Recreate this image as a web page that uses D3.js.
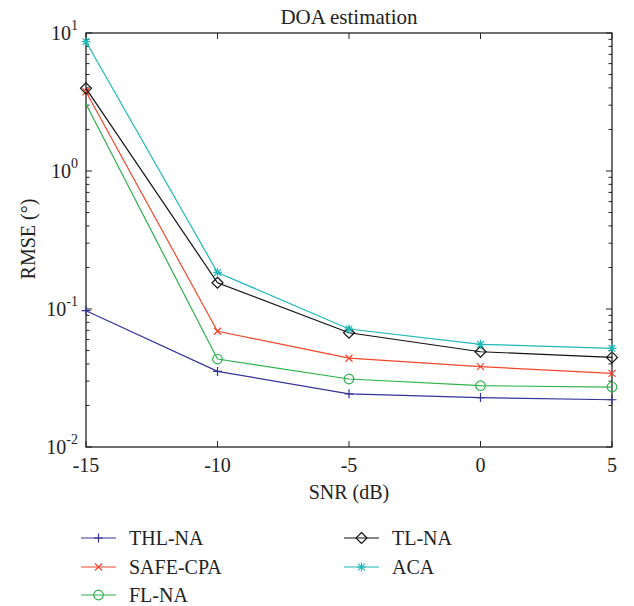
<!DOCTYPE html>
<html>
<head>
<meta charset="utf-8">
<script src="https://cdn.jsdelivr.net/npm/d3@7"></script>
<style>
  body { margin: 0; background: #fff; }
</style>
</head>
<body>
<script>
// data
const snr = [-15, -10, -5, 0, 5];
const thlNa = [0.0972, 0.0353, 0.0243, 0.0228, 0.0220];
const safeCpa = [3.75, 0.069, 0.0440, 0.0382, 0.0342];
const flNa = [3.06, 0.0434, 0.0311, 0.0278, 0.0272];
const tlNa = [3.97, 0.155, 0.0673, 0.0490, 0.0446];
const aca = [8.65, 0.184, 0.0716, 0.0555, 0.0519];
const xTicks = [-15, -10, -5, 0, 5];
const yTicks = [1e-2, 1e-1, 1e0, 1e1];

const series = [
  { name: "THL-NA", values: thlNa, color: "#35349a", marker: "plus" },
  { name: "SAFE-CPA", values: safeCpa, color: "#f2472c", marker: "cross" },
  { name: "FL-NA", values: flNa, color: "#2eb24a", marker: "circle", skipFirst: true },
  { name: "TL-NA", values: tlNa, color: "#111111", marker: "diamond" },
  { name: "ACA", values: aca, color: "#1fb8b8", marker: "star" }
];

const FONT = "'Liberation Serif'";
const W = 634, H = 606;
const margin = { left: 86, top: 33, right: 634 - 612, bottom: 606 - 447 };
const width = W - margin.left - margin.right;
const height = H - margin.top - margin.bottom;

const svg = d3.select("body").append("svg")
  .attr("width", W).attr("height", H);

const g = svg.append("g")
  .attr("transform", `translate(${margin.left},${margin.top})`);

const xScale = d3.scaleLinear([-15, 5], [0, width]);
const yScale = d3.scaleLog([1e-2, 1e1], [height, 0]);

// minor log ticks
const minor = [];
for (let e = -2; e < 1; e++) {
  for (let m = 2; m <= 9; m++) minor.push(m * Math.pow(10, e));
}

// ticks drawn inward on all four sides
function yTickLines(xPos, dir) {
  g.selectAll(null).data(yTicks).enter().append("line")
    .attr("x1", xPos).attr("x2", xPos + dir * 6)
    .attr("y1", d => yScale(d)).attr("y2", d => yScale(d))
    .attr("stroke", "#222").attr("stroke-width", 1);
  g.selectAll(null).data(minor).enter().append("line")
    .attr("x1", xPos).attr("x2", xPos + dir * 3.5)
    .attr("y1", d => yScale(d)).attr("y2", d => yScale(d))
    .attr("stroke", "#222").attr("stroke-width", 1);
}
yTickLines(0, 1);
yTickLines(width, -1);

function xTickLines(yPos, dir) {
  g.selectAll(null).data(xTicks).enter().append("line")
    .attr("x1", d => xScale(d)).attr("x2", d => xScale(d))
    .attr("y1", yPos).attr("y2", yPos + dir * 6)
    .attr("stroke", "#222").attr("stroke-width", 1);
}
xTickLines(height, -1);
xTickLines(0, 1);

// frame
g.append("rect")
  .attr("x", 0).attr("y", 0)
  .attr("width", width).attr("height", height)
  .attr("fill", "none").attr("stroke", "#222").attr("stroke-width", 1.3);

// tick labels
g.selectAll(null).data(xTicks).enter().append("text")
  .attr("x", d => xScale(d)).attr("y", height + 25)
  .attr("text-anchor", "middle")
  .attr("fill", "#222")
  .style("font-family", FONT)
  .style("font-size", "20px")
  .text(d => d);

const yLab = g.selectAll(null).data(yTicks).enter().append("text")
  .attr("x", -8).attr("y", d => yScale(d) + 7)
  .attr("text-anchor", "end")
  .attr("fill", "#222")
  .style("font-family", FONT)
  .style("font-size", "20px");
yLab.append("tspan").text("10");
yLab.append("tspan")
  .attr("dy", -10).style("font-size", "14px")
  .text(d => Math.round(Math.log10(d)));

// axis labels + title
svg.append("text")
  .attr("x", margin.left + width / 2).attr("y", 24)
  .attr("text-anchor", "middle")
  .attr("fill", "#222")
  .style("font-family", FONT)
  .style("font-size", "21px")
  .text("DOA estimation");

svg.append("text")
  .attr("x", margin.left + width / 2).attr("y", margin.top + height + 52)
  .attr("text-anchor", "middle")
  .attr("fill", "#222")
  .style("font-family", FONT)
  .style("font-size", "20px")
  .text("SNR (dB)");

svg.append("text")
  .attr("transform", `translate(35,${margin.top + height / 2 - 1}) rotate(-90)`)
  .attr("text-anchor", "middle")
  .attr("fill", "#222")
  .style("font-family", FONT)
  .style("font-size", "20px")
  .text("RMSE (°)");

// markers
function drawMarker(sel, type, color) {
  const s = 4.5;
  if (type === "plus") {
    sel.append("path").attr("d", `M${-s},0H${s}M0,${-s}V${s}`)
      .attr("stroke", color).attr("fill", "none").attr("stroke-width", 1.2);
  } else if (type === "cross") {
    const c = 3.5;
    sel.append("path").attr("d", `M${-c},${-c}L${c},${c}M${-c},${c}L${c},${-c}`)
      .attr("stroke", color).attr("fill", "none").attr("stroke-width", 1.2);
  } else if (type === "circle") {
    sel.append("circle").attr("r", 4.8)
      .attr("stroke", color).attr("fill", "none").attr("stroke-width", 1.2);
  } else if (type === "diamond") {
    const d = 5.5;
    sel.append("path").attr("d", `M0,${-d}L${d},0L0,${d}L${-d},0Z`)
      .attr("stroke", color).attr("fill", "none").attr("stroke-width", 1.2);
  } else if (type === "star") {
    const c = 3.3, p = 4.5;
    sel.append("path")
      .attr("d", `M${-p},0H${p}M0,${-p}V${p}M${-c},${-c}L${c},${c}M${-c},${c}L${c},${-c}`)
      .attr("stroke", color).attr("fill", "none").attr("stroke-width", 1.2);
  }
}

const line = d3.line()
  .x((d, i) => xScale(snr[i]))
  .y(d => yScale(d));

series.forEach(s => {
  g.append("path")
    .datum(s.values)
    .attr("fill", "none")
    .attr("stroke", s.color)
    .attr("stroke-width", 1.2)
    .attr("d", line);
  s.values.forEach((v, i) => {
    if (s.skipFirst && i === 0) return;
    const m = g.append("g")
      .attr("transform", `translate(${xScale(snr[i])},${yScale(v)})`);
    drawMarker(m, s.marker, s.color);
  });
});

// legend
const legendPos = [
  [81, 538], [81, 567], [81, 595], [344, 538], [344, 567]
];
series.forEach((s, i) => {
  const [lx, ly] = legendPos[i];
  const lg = svg.append("g").attr("transform", `translate(${lx},${ly})`);
  lg.append("line").attr("x1", 0).attr("x2", 35).attr("y1", 0).attr("y2", 0)
    .attr("stroke", s.color).attr("stroke-width", 1.2);
  const m = lg.append("g").attr("transform", "translate(17.5,0)");
  drawMarker(m, s.marker, s.color);
  lg.append("text").attr("x", 48).attr("y", 6.5)
    .attr("fill", "#222")
    .style("font-family", FONT)
    .style("font-size", "20px")
    .text(s.name);
});
</script>
</body>
</html>
